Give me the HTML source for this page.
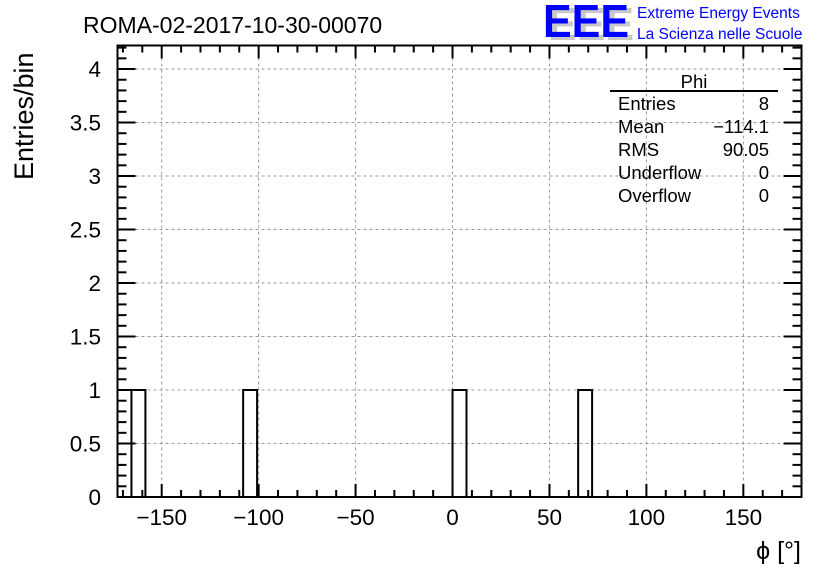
<!DOCTYPE html>
<html><head><meta charset="utf-8"><style>
body{margin:0;background:#fff;}
svg{display:block;font-family:"Liberation Sans",Arial,sans-serif;}
</style></head><body>
<svg id="c" width="836" height="572" viewBox="0 0 836 572">
<rect x="0" y="0" width="836" height="572" fill="#fff"/>
<text x="83" y="33" font-size="23">ROMA-02-2017-10-30-00070</text>
<g>
<text x="548" y="40" font-size="46" font-weight="bold" fill="#c8c8c8" textLength="86" lengthAdjust="spacingAndGlyphs">EEE</text>
<text x="543" y="37" font-size="46" font-weight="bold" fill="#0000ff" textLength="86" lengthAdjust="spacingAndGlyphs">EEE</text>
<text x="637" y="18" font-size="15.5" fill="#0000ff">Extreme Energy Events</text>
<text x="637" y="39" font-size="15.5" fill="#0000ff">La Scienza nelle Scuole</text>
</g>
<g id="grid"></g>
<g id="bars"></g>
<g id="axes"></g>
<text transform="translate(33,180) rotate(-90)" font-size="27" text-anchor="start">Entries/bin</text>
<text x="801" y="559" font-size="25" text-anchor="end">ϕ [°]</text>
<g font-size="18.5">
<text x="694" y="88" text-anchor="middle">Phi</text>
<line x1="610" y1="91" x2="778" y2="91" stroke="#000" stroke-width="2"/>
<text x="618" y="110">Entries</text><text x="769" y="110" text-anchor="end">8</text>
<text x="618" y="133">Mean</text><text x="769" y="133" text-anchor="end">−114.1</text>
<text x="618" y="156">RMS</text><text x="769" y="156" text-anchor="end">90.05</text>
<text x="618" y="179">Underflow</text><text x="769" y="179" text-anchor="end">0</text>
<text x="618" y="202">Overflow</text><text x="769" y="202" text-anchor="end">0</text>
</g>
</svg>
<script>
const binLowEdges=[-165.6,-108,0,64.8];
const binCounts=[1,1,1,1];
const binWidth=7.2;
const xTickLabels=[-150,-100,-50,0,50,100,150];
const yTickLabels=[0,0.5,1,1.5,2,2.5,3,3.5,4];
const NS="http://www.w3.org/2000/svg";
const L=117.5,R=801.5,T=45.5,B=497;
const xMin=-172.8,xMax=180,yMin=0,yMax=4.22;
const X=v=>L+(v-xMin)/(xMax-xMin)*(R-L);
const Y=v=>B-(v-yMin)/(yMax-yMin)*(B-T);
function mk(tag,attrs,parent){const e=document.createElementNS(NS,tag);for(const k in attrs)e.setAttribute(k,attrs[k]);parent.appendChild(e);return e;}
const grid=document.getElementById('grid'),bars=document.getElementById('bars'),axes=document.getElementById('axes');
xTickLabels.forEach(v=>{const l=mk('line',{x1:X(v),x2:X(v),y1:T,y2:B,stroke:'#999','stroke-width':1,'stroke-dasharray':'3,3'},grid);

});
yTickLabels.forEach(v=>{if(v===0)return;const l=mk('line',{x1:L,x2:R,y1:Y(v),y2:Y(v),stroke:'#999','stroke-width':1,'stroke-dasharray':'3,3'},grid);

});
binLowEdges.forEach((e,i)=>{const r=mk('rect',{x:X(e),y:Y(binCounts[i]),width:X(e+binWidth)-X(e),height:Y(0)-Y(binCounts[i]),fill:'none',stroke:'#000','stroke-width':2},bars);

});
const fr=mk('rect',{x:L,y:T,width:R-L,height:B-T,fill:'none',stroke:'#000','stroke-width':2},axes);


for(let v=-170;v<=180;v+=10){const maj=v%50===0;const len=maj?13:7;
mk('line',{x1:X(v),x2:X(v),y1:B,y2:B-len,stroke:'#000','stroke-width':2},axes);
mk('line',{x1:X(v),x2:X(v),y1:T,y2:T+len,stroke:'#000','stroke-width':2},axes);}
xTickLabels.forEach(v=>{const t=mk('text',{x:X(v),y:525,'font-size':22.5,'text-anchor':'middle'},axes);t.textContent=v<0?'−'+Math.abs(v):String(v);

});
for(let i=0;i<=42;i++){const v=i/10;const maj=i%5===0;const len=maj?18:9;
mk('line',{x1:L,x2:L+len,y1:Y(v),y2:Y(v),stroke:'#000','stroke-width':2},axes);
mk('line',{x1:R,x2:R-len,y1:Y(v),y2:Y(v),stroke:'#000','stroke-width':2},axes);}
yTickLabels.forEach(v=>{const t=mk('text',{x:101,y:Y(v)+8,'font-size':22.5,'text-anchor':'end'},axes);t.textContent=String(v);

});
</script>
</body></html>
